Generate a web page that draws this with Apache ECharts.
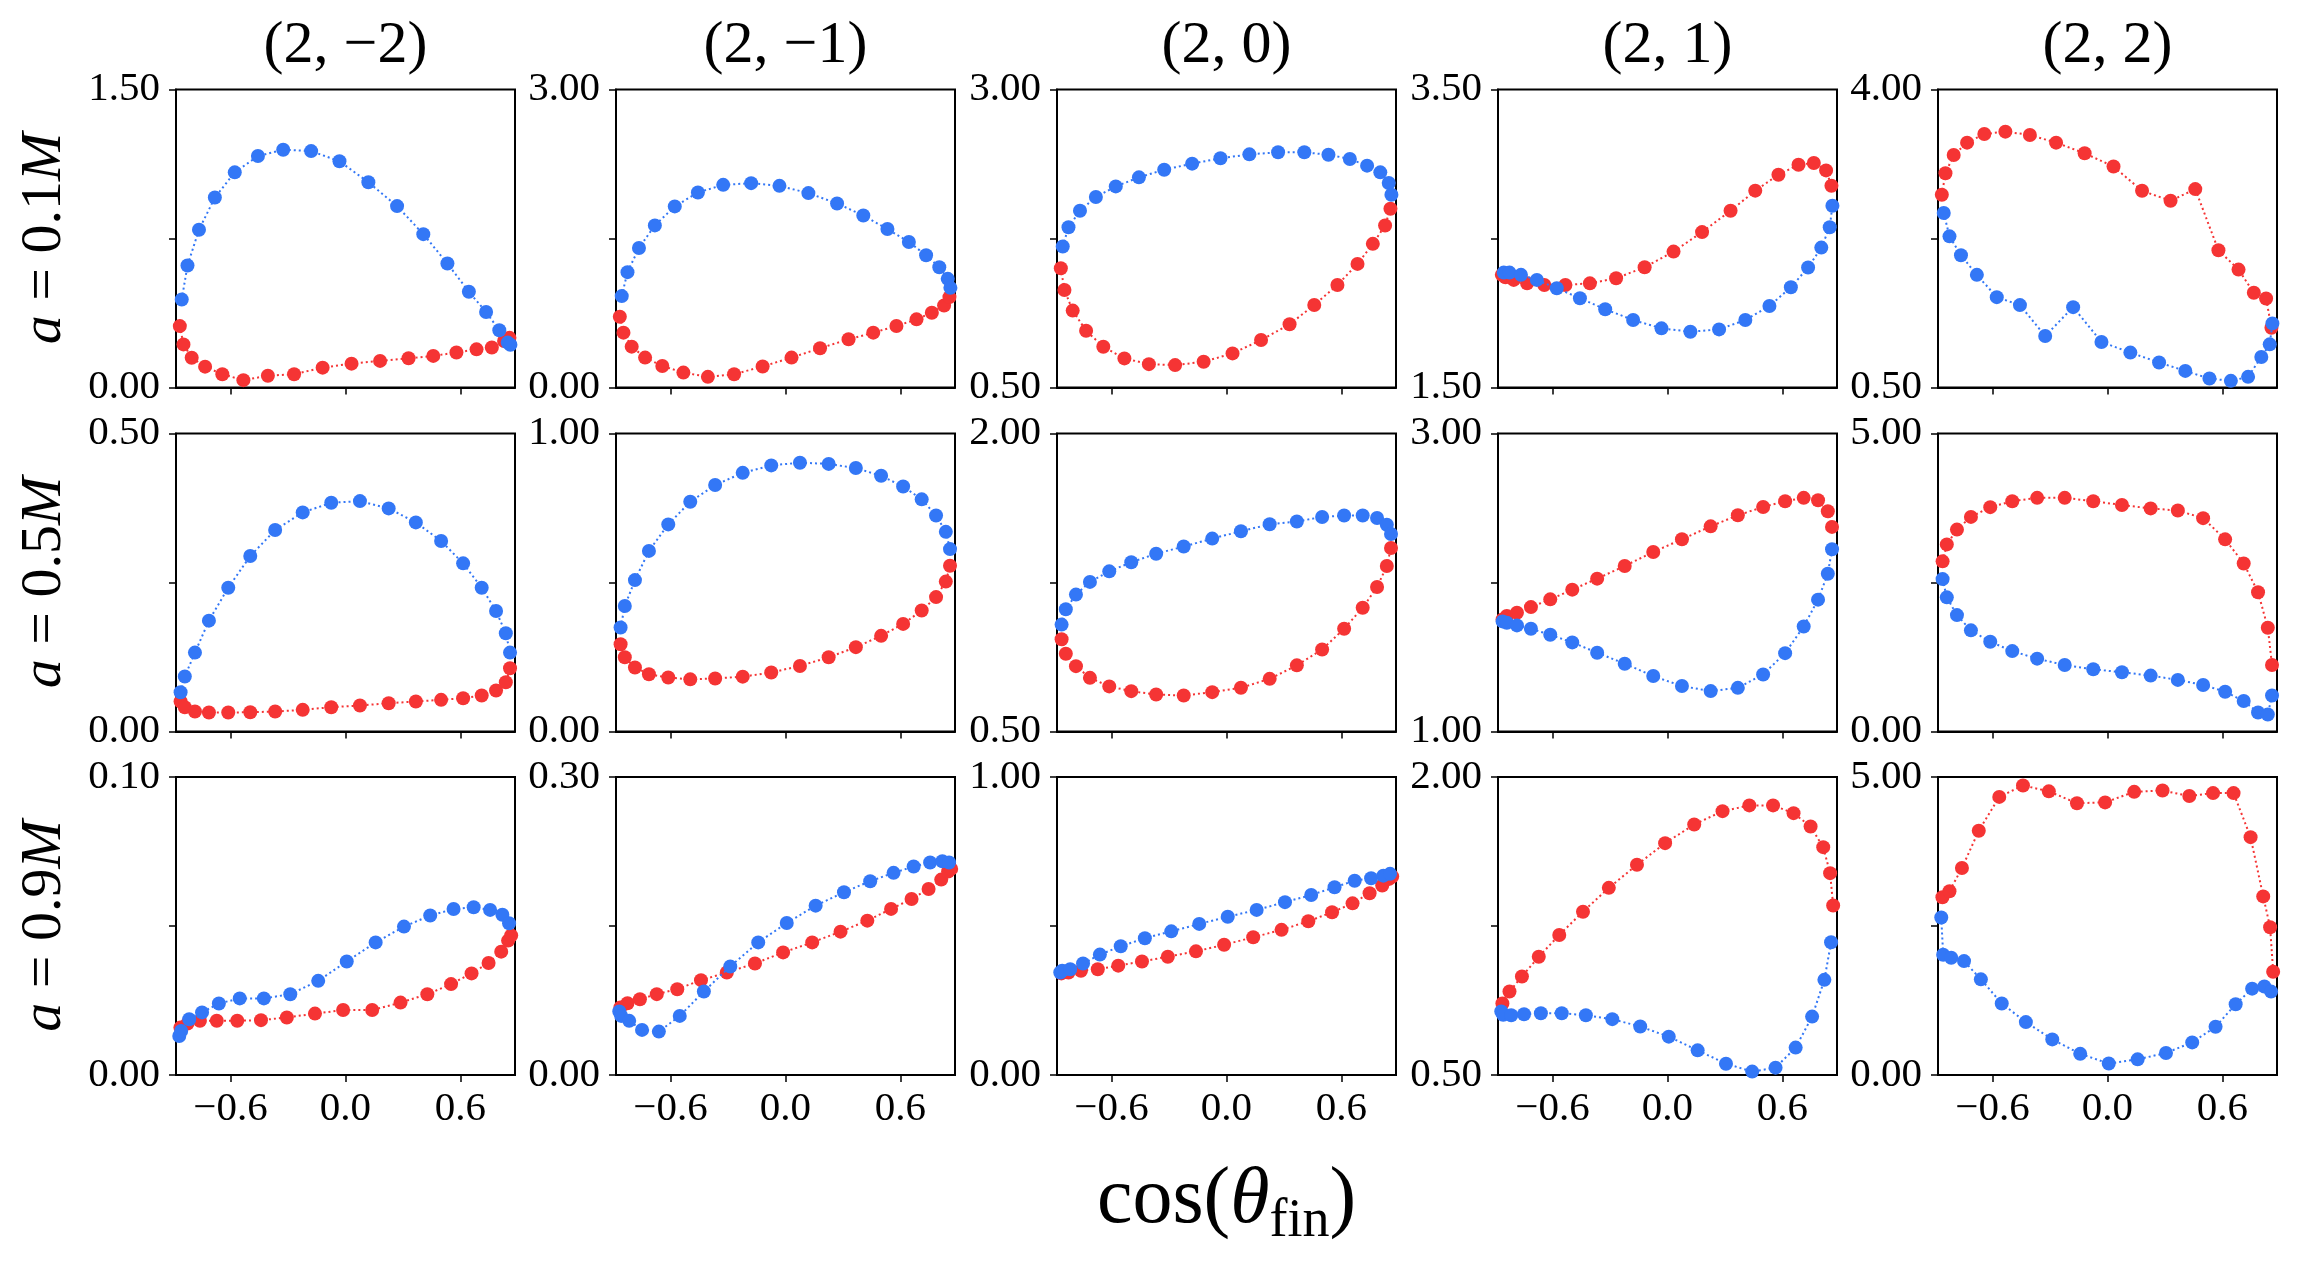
<!DOCTYPE html>
<html lang="en" style="height: 100%">
<head>
  <meta charset="utf-8">
  <title>cos(theta_fin) grid</title>
</head>
<body style="height: 100%; margin: 0; background: #fff">
  <div id="container" style="height: 100%"></div>

  <script type="text/javascript" src="https://cdn.jsdelivr.net/npm/echarts@6.0.0/dist/echarts.min.js"></script>
  <script type="text/javascript">
    // column titles (l, m) and row labels (spin)
    const modes = ['(2, \u22122)', '(2, \u22121)', '(2, 0)', '(2, 1)', '(2, 2)'];
    const spins = ['0.1', '0.5', '0.9'];

    // y limits per panel (labels at bottom and top)
    const yLow = [
      [0, 0, 0.5, 1.5, 0.5],
      [0, 0, 0.5, 1, 0],
      [0, 0, 0, 0.5, 0]
    ];
    const yHigh = [
      [1.5, 3, 3, 3.5, 4],
      [0.5, 1, 2, 3, 5],
      [0.1, 0.3, 1, 2, 5]
    ];
    const xTicks = [-0.6, 0, 0.6];

    // cos(theta_fin) sample positions, per row
    const xBlue0 = [-0.855, -0.825, -0.765, -0.682, -0.578, -0.457, -0.325, -0.179, -0.031, 0.12, 0.27, 0.407, 0.533, 0.645, 0.735, 0.804, 0.848, 0.862];
    const xRed0 = [-0.865, -0.846, -0.803, -0.733, -0.643, -0.533, -0.405, -0.268, -0.119, 0.032, 0.181, 0.33, 0.459, 0.58, 0.685, 0.765, 0.829, 0.857];
    const xRow1 = [-0.861, -0.839, -0.786, -0.713, -0.612, -0.497, -0.367, -0.223, -0.074, 0.076, 0.226, 0.368, 0.5, 0.615, 0.712, 0.787, 0.838, 0.86];
    const xBlue2 = [-0.868, -0.858, -0.816, -0.749, -0.661, -0.552, -0.426, -0.288, -0.142, 0.007, 0.158, 0.306, 0.443, 0.565, 0.67, 0.756, 0.82, 0.855];
    const xRed2 = [-0.862, -0.825, -0.76, -0.672, -0.565, -0.441, -0.306, -0.159, -0.012, 0.14, 0.288, 0.428, 0.552, 0.659, 0.748, 0.814, 0.85, 0.866];

    // a = 0.1M
    const b00 = [0.443, 0.614, 0.794, 0.956, 1.083, 1.165, 1.197, 1.190, 1.139, 1.033, 0.913, 0.772, 0.624, 0.482, 0.380, 0.288, 0.226, 0.215];
    const r00 = [0.309, 0.217, 0.150, 0.105, 0.067, 0.037, 0.059, 0.067, 0.100, 0.120, 0.134, 0.147, 0.159, 0.176, 0.192, 0.201, 0.234, 0.250];
    const b01 = [0.920, 1.161, 1.405, 1.632, 1.823, 1.963, 2.040, 2.057, 2.030, 1.957, 1.853, 1.732, 1.595, 1.465, 1.331, 1.211, 1.094, 1.003];
    const r01 = [0.712, 0.552, 0.411, 0.301, 0.217, 0.150, 0.107, 0.134, 0.211, 0.301, 0.395, 0.485, 0.552, 0.619, 0.686, 0.753, 0.826, 0.910];
    const b02 = [1.683, 1.845, 1.983, 2.098, 2.187, 2.263, 2.327, 2.378, 2.423, 2.456, 2.473, 2.473, 2.453, 2.417, 2.361, 2.305, 2.215, 2.117];
    const r02 = [1.501, 1.318, 1.145, 0.976, 0.842, 0.744, 0.696, 0.688, 0.716, 0.786, 0.898, 1.030, 1.192, 1.360, 1.537, 1.705, 1.859, 1.999];
    const b03 = [2.271, 2.271, 2.256, 2.222, 2.166, 2.099, 2.025, 1.953, 1.897, 1.874, 1.890, 1.953, 2.047, 2.173, 2.305, 2.439, 2.576, 2.720];
    const r03 = [2.256, 2.240, 2.222, 2.199, 2.188, 2.188, 2.199, 2.233, 2.307, 2.412, 2.543, 2.686, 2.821, 2.928, 2.995, 3.007, 2.957, 2.854];
    const b04 = [2.549, 2.275, 2.053, 1.823, 1.561, 1.468, 1.105, 1.444, 1.035, 0.910, 0.793, 0.695, 0.605, 0.578, 0.625, 0.859, 1.007, 1.253];
    const r04 = [2.763, 3.017, 3.231, 3.376, 3.477, 3.505, 3.466, 3.376, 3.251, 3.095, 2.810, 2.693, 2.830, 2.112, 1.885, 1.612, 1.546, 1.202];

    // a = 0.5M
    const b10 = [0.0659, 0.0922, 0.1324, 0.1860, 0.2413, 0.2944, 0.3380, 0.3676, 0.3838, 0.3866, 0.3743, 0.3508, 0.3196, 0.2821, 0.2413, 0.2022, 0.1648, 0.1324];
    const r10 = [0.0503, 0.0408, 0.0335, 0.0318, 0.0318, 0.0324, 0.0335, 0.0363, 0.0408, 0.0436, 0.0475, 0.0503, 0.0531, 0.0559, 0.0603, 0.0687, 0.0827, 0.1061];
    const b11 = [0.349, 0.421, 0.508, 0.606, 0.695, 0.771, 0.827, 0.868, 0.893, 0.902, 0.898, 0.884, 0.858, 0.822, 0.779, 0.725, 0.670, 0.612];
    const r11 = [0.293, 0.249, 0.215, 0.192, 0.181, 0.175, 0.178, 0.184, 0.198, 0.220, 0.249, 0.283, 0.321, 0.361, 0.406, 0.451, 0.503, 0.556];
    const b12 = [1.038, 1.115, 1.189, 1.253, 1.306, 1.352, 1.395, 1.431, 1.471, 1.508, 1.543, 1.557, 1.580, 1.587, 1.587, 1.575, 1.541, 1.494];
    const r12 = [0.964, 0.891, 0.829, 0.770, 0.727, 0.703, 0.686, 0.681, 0.698, 0.720, 0.765, 0.833, 0.913, 1.017, 1.123, 1.227, 1.333, 1.424];
    const b13 = [1.739, 1.730, 1.712, 1.690, 1.649, 1.598, 1.529, 1.455, 1.372, 1.305, 1.271, 1.293, 1.383, 1.526, 1.705, 1.885, 2.059, 2.223];
    const r13 = [1.752, 1.775, 1.797, 1.835, 1.887, 1.952, 2.026, 2.111, 2.205, 2.290, 2.377, 2.451, 2.507, 2.545, 2.568, 2.552, 2.478, 2.373];
    const b14 = [2.557, 2.251, 1.953, 1.697, 1.506, 1.349, 1.222, 1.115, 1.044, 0.994, 0.938, 0.866, 0.781, 0.668, 0.511, 0.320, 0.284, 0.604];
    const r14 = [2.855, 3.139, 3.388, 3.601, 3.764, 3.864, 3.920, 3.920, 3.864, 3.800, 3.743, 3.707, 3.580, 3.224, 2.820, 2.337, 1.740, 1.115];

    // a = 0.9M
    const b20 = [0.0131, 0.0148, 0.0187, 0.0210, 0.0240, 0.0257, 0.0257, 0.0271, 0.0316, 0.0381, 0.0445, 0.0498, 0.0535, 0.0557, 0.0563, 0.0554, 0.0538, 0.0509];
    const r20 = [0.0159, 0.0173, 0.0182, 0.0182, 0.0182, 0.0184, 0.0193, 0.0206, 0.0218, 0.0218, 0.0243, 0.0271, 0.0305, 0.0341, 0.0376, 0.0414, 0.0451, 0.0468];
    const b21 = [0.0639, 0.0595, 0.0545, 0.0454, 0.0437, 0.0595, 0.0841, 0.1093, 0.1335, 0.1530, 0.1705, 0.1840, 0.1951, 0.2035, 0.2099, 0.2139, 0.2152, 0.2139];
    const r21 = [0.0679, 0.0723, 0.0763, 0.0814, 0.0864, 0.0955, 0.1032, 0.1123, 0.1234, 0.1335, 0.1443, 0.1554, 0.1672, 0.1772, 0.1873, 0.1967, 0.2048, 0.2075];
    const b22 = [0.344, 0.350, 0.355, 0.374, 0.404, 0.432, 0.459, 0.482, 0.507, 0.531, 0.554, 0.580, 0.604, 0.630, 0.652, 0.660, 0.669, 0.675];
    const r22 = [0.341, 0.344, 0.350, 0.355, 0.367, 0.381, 0.397, 0.415, 0.437, 0.462, 0.487, 0.516, 0.546, 0.576, 0.610, 0.636, 0.658, 0.666];
    const b23 = [0.820, 0.803, 0.801, 0.806, 0.811, 0.811, 0.801, 0.781, 0.744, 0.693, 0.624, 0.557, 0.517, 0.537, 0.638, 0.794, 0.979, 1.168];
    const r23 = [0.860, 0.920, 0.996, 1.095, 1.205, 1.322, 1.442, 1.558, 1.667, 1.761, 1.828, 1.857, 1.857, 1.818, 1.751, 1.647, 1.516, 1.353];
    const b24 = [2.642, 2.017, 1.967, 1.911, 1.605, 1.200, 0.888, 0.597, 0.355, 0.192, 0.263, 0.369, 0.547, 0.810, 1.186, 1.449, 1.484, 1.399];
    const r24 = [2.983, 3.082, 3.473, 4.098, 4.666, 4.858, 4.759, 4.560, 4.574, 4.751, 4.773, 4.680, 4.730, 4.730, 3.991, 2.997, 2.479, 1.733];

    const blues = [[b00, b01, b02, b03, b04], [b10, b11, b12, b13, b14], [b20, b21, b22, b23, b24]];
    const reds = [[r00, r01, r02, r03, r04], [r10, r11, r12, r13, r14], [r20, r21, r22, r23, r24]];
    const xBlue = [xBlue0, xRow1, xBlue2];
    const xRed = [xRed0, xRow1, xRed2];

    // layout
    const FONT = 'Liberation Serif';
    const BLUE = '#3377f6';
    const RED = '#f53434';
    const colLeft = [176, 616, 1057, 1498, 1938];
    const rowTop = [89.5, 433.5, 777];
    const W = 339, H = 298;
    const X_MIN = -0.885, X_MAX = 0.886;

    var dom = document.getElementById('container');
    var myChart = echarts.init(dom, null, { renderer: 'canvas' });

    function pairs(xs, ys) {
      return ys.map(function (y, i) { return [xs[i], y]; });
    }
    function fmtX(v) {
      return (v < 0 ? '\u2212' : '') + Math.abs(v).toFixed(1);
    }

    const grids = [], xAxes = [], yAxes = [], series = [], graphics = [];
    for (let r = 0; r < 3; r++) {
      for (let c = 0; c < 5; c++) {
        const idx = r * 5 + c;
        const lo = yLow[r][c], hi = yHigh[r][c];
        grids.push({
          left: colLeft[c], top: rowTop[r], width: W, height: H,
          show: true, borderColor: '#000', borderWidth: 2
        });
        const xa = {
          gridIndex: idx, type: 'value', min: X_MIN, max: X_MAX,
          axisLine: { show: true, onZero: false, lineStyle: { color: '#000', width: 2 } },
          axisTick: { show: true, length: 7, customValues: xTicks, lineStyle: { color: '#000', width: 1.5 } },
          axisLabel: {
            show: r === 2, customValues: xTicks, formatter: fmtX,
            fontSize: 41, fontFamily: FONT, color: '#000', margin: 14
          },
          splitLine: { show: false }
        };
        if (r === 2 && c === 2) {
          xa.name = '{n|cos(}{t|\u03b8}{s|fin}{n|)}';
          xa.nameLocation = 'middle';
          xa.nameGap = 78;
          xa.nameTextStyle = {
            color: '#000',
            rich: {
              n: { fontSize: 80, fontFamily: FONT, color: '#000' },
              t: { fontSize: 80, fontFamily: FONT, fontStyle: 'italic', color: '#000' },
              s: { fontSize: 54, fontFamily: FONT, color: '#000', padding: [42, 0, 0, 0] }
            }
          };
        }
        xAxes.push(xa);
        const ya = {
          gridIndex: idx, type: 'value', min: lo, max: hi,
          axisLine: { show: true, onZero: false, lineStyle: { color: '#000', width: 2 } },
          axisTick: { show: true, length: 7, customValues: [lo, (lo + hi) / 2, hi], lineStyle: { color: '#000', width: 1.5 } },
          axisLabel: {
            customValues: [lo, hi], formatter: function (v) { return v.toFixed(2); },
            fontSize: 41, fontFamily: FONT, color: '#000', margin: 16
          },
          splitLine: { show: false }
        };
        if (c === 0) {
          ya.name = '{i|a} = ' + spins[r] + '{i|M}';
          ya.nameLocation = 'middle';
          ya.nameRotate = 90;
          ya.nameGap = 102;
          ya.nameTextStyle = {
            fontSize: 58, fontFamily: FONT, color: '#000',
            rich: { i: { fontSize: 58, fontFamily: FONT, fontStyle: 'italic', color: '#000' } }
          };
        }
        yAxes.push(ya);
        series.push({
          type: 'line', xAxisIndex: idx, yAxisIndex: idx,
          data: pairs(xRed[r], reds[r][c]),
          symbol: 'circle', symbolSize: 14, showSymbol: true, clip: true, z: 2,
          itemStyle: { color: RED },
          lineStyle: { color: RED, width: 2, type: [2, 3] }
        });
        series.push({
          type: 'line', xAxisIndex: idx, yAxisIndex: idx,
          data: pairs(xBlue[r], blues[r][c]),
          symbol: 'circle', symbolSize: 14, showSymbol: true, clip: true, z: 3,
          itemStyle: { color: BLUE },
          lineStyle: { color: BLUE, width: 2, type: [2, 3] }
        });
      }
    }

    modes.forEach(function (t, c) {
      graphics.push({
        type: 'text', x: colLeft[c] + W / 2, y: 16,
        style: { text: t, fill: '#000', fontSize: 60, fontFamily: FONT, align: 'center', verticalAlign: 'top' }
      });
    });

    var option = {
      animation: false,
      backgroundColor: '#fff',
      grid: grids,
      xAxis: xAxes,
      yAxis: yAxes,
      series: series,
      graphic: graphics
    };

    myChart.setOption(option);
    window.addEventListener('resize', myChart.resize);
  </script>
</body>
</html>
